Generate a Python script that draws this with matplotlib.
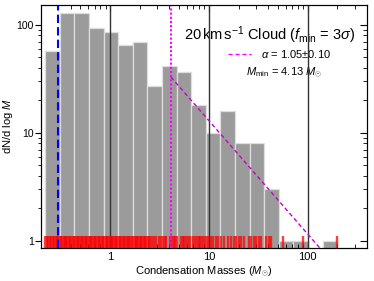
import numpy as np
import matplotlib
matplotlib.use("Agg")
import matplotlib.pyplot as plt
from matplotlib.ticker import FixedLocator, NullFormatter, FixedFormatter

plt.rcParams['font.family'] = ['Liberation Sans', 'DejaVu Sans']
plt.rcParams['mathtext.fontset'] = 'custom'
plt.rcParams['mathtext.rm'] = 'Liberation Sans'
plt.rcParams['mathtext.it'] = 'Liberation Sans:italic'
plt.rcParams['mathtext.bf'] = 'Liberation Sans:bold'

##########################################
# data
##########################################
mass_lo = 0.22    # lowest condensation mass (Msun)
mass_hi = 200.0   # highest condensation mass (Msun)
counts = [57, 130, 130, 94, 86, 65, 70, 27, 42, 37,
          18, 10, 16, 8, 8, 3, 1, 1, 0, 1]

# individual masses drawn as the red rug
rug_masses = [
    0.220, 0.228, 0.236, 0.244, 0.253, 0.262, 0.271, 0.281, 0.291,
    0.300, 0.309, 0.319, 0.329, 0.339, 0.349, 0.360, 0.371, 0.383, 0.395,
    0.407, 0.420, 0.433, 0.446, 0.460, 0.474, 0.489, 0.504, 0.520, 0.536,
    0.553, 0.570, 0.588, 0.606, 0.625, 0.644, 0.664, 0.685, 0.706, 0.728,
    0.751, 0.774, 0.798, 0.823, 0.849, 0.875, 0.902, 0.930, 0.959, 0.989,
    1.02, 1.05, 1.08, 1.12, 1.15, 1.19, 1.22, 1.26, 1.30, 1.34, 1.38,
    1.43, 1.47, 1.52, 1.56, 1.61, 1.66, 1.71, 1.77, 1.82, 1.88, 1.94,
    2.00, 2.06, 2.12, 2.19, 2.26, 2.33, 2.40, 2.48,
    2.56, 2.67, 2.78, 2.90, 3.15, 3.28, 3.42, 3.57, 3.72,
    4.05, 4.22, 4.40, 4.59, 4.79, 5.20, 5.42, 5.65, 5.90, 6.15, 6.41,
    6.97, 7.27, 7.58, 7.90, 8.24, 8.59, 8.96, 9.34,
    9.9, 10.5, 11.1, 11.8, 12.5, 13.3, 14.1, 15.8, 16.8, 17.8, 18.9,
    20.0, 21.2, 22.5, 25.3, 26.8, 28.4, 30.1, 31.9, 33.8,
    38.0, 40.3, 42.7, 56.0, 89.0, 198.0]

m_res = 0.30       # blue dashed line
m_min = 4.13       # magenta dotted line
alpha_fit = 1.05
amp_fit = 33.0     # dN/dlogM at m_min for the fit
grid_masses = [1, 10, 100]

##########################################
# figure
##########################################
fig = plt.figure(figsize=(3.74, 2.81), dpi=100)
ax = fig.add_axes([0.1096, 0.1174, 0.8717, 0.8648])
ax.set_xscale('log')
ax.set_yscale('log')

edges = np.logspace(np.log10(mass_lo), np.log10(mass_hi), len(counts) + 1)
ax.bar(edges[:-1], counts, width=np.diff(edges), align='edge',
       color='#9b9b9b', edgecolor='#dedede', linewidth=0.9, zorder=1)

for m in grid_masses:
    ax.axvline(m, color='#333333', lw=1.0, zorder=3)

ax.vlines(rug_masses, 0, 0.05, transform=ax.get_xaxis_transform(),
          color='red', lw=1.7, alpha=0.75, zorder=4)

ax.axvline(m_res, color='blue', lw=1.5, ls=(0, (4, 2)), zorder=5)
ax.axvline(m_min, color='#ff00ff', lw=1.5, ls=(0, (1, 1)), zorder=5)

xfit = np.array([m_min, 1000.0])
yfit = amp_fit * (xfit / m_min) ** (-alpha_fit)
ax.plot(xfit, yfit, color='#cc00cc', lw=1.0, ls=(0, (3, 2)), zorder=5)

ax.set_xlim(0.2, 400)
ax.set_ylim(0.86, 153)

ax.text(0.702, 0.877, r'20$\,$km$\,$s$^{-1}$ Cloud ($f_{\rm min}$ = 3$\sigma$)',
        transform=ax.transAxes, ha='center', va='center', fontsize=10.5, zorder=2)
ax.plot([0.574, 0.644], [0.798, 0.798], transform=ax.transAxes,
        color='#ff00ff', lw=1.0, ls=(0, (3, 2)), zorder=2)
ax.text(0.675, 0.798, r'$\alpha$ = 1.05$\pm$0.10', transform=ax.transAxes,
        ha='left', va='center', fontsize=8, zorder=2)
ax.text(0.745, 0.721, r'$M_{\rm min}$ = 4.13 $M_{\odot}$', transform=ax.transAxes,
        ha='center', va='center', fontsize=8, zorder=2)

ax.set_xlabel(r'Condensation Masses ($M_{\odot}$)', fontsize=8, labelpad=2)
ax.set_ylabel(r'dN/d log $M$', fontsize=8, labelpad=1)

# ticks
ax.xaxis.set_major_locator(FixedLocator([1, 10, 100]))
ax.xaxis.set_major_formatter(FixedFormatter(['1', '10', '100']))
ax.xaxis.set_minor_locator(FixedLocator([k * d for d in [0.1, 1, 10, 100] for k in range(2, 10)]))
ax.xaxis.set_minor_formatter(NullFormatter())
ax.yaxis.set_major_locator(FixedLocator([1, 10, 100]))
ax.yaxis.set_major_formatter(FixedFormatter(['1', '10', '100']))
ax.yaxis.set_minor_locator(FixedLocator([k * d for d in [1, 10, 100] for k in range(2, 10)]))
ax.yaxis.set_minor_formatter(NullFormatter())

ax.tick_params(axis='x', which='both', direction='in', top=True, labelsize=8, pad=3)
ax.tick_params(axis='x', which='major', length=5)
ax.tick_params(axis='x', which='minor', length=3)
ax.tick_params(axis='y', which='both', direction='out', labelsize=7.5, pad=1)
ax.tick_params(axis='y', which='major', length=4)
ax.tick_params(axis='y', which='minor', length=2.5)

ax2 = ax.twinx()
ax2.set_yscale('log')
ax2.set_ylim(ax.get_ylim())
ax2.yaxis.set_major_locator(FixedLocator([1, 10, 100]))
ax2.yaxis.set_minor_locator(FixedLocator([k * d for d in [1, 10, 100] for k in range(2, 10)]))
ax2.yaxis.set_major_formatter(NullFormatter())
ax2.yaxis.set_minor_formatter(NullFormatter())
ax2.tick_params(axis='y', which='both', direction='in')
ax2.tick_params(axis='y', which='major', length=5)
ax2.tick_params(axis='y', which='minor', length=3)

for a in (ax, ax2):
    for s in a.spines.values():
        s.set_linewidth(0.8)

fig.savefig('out.png', dpi=100)
